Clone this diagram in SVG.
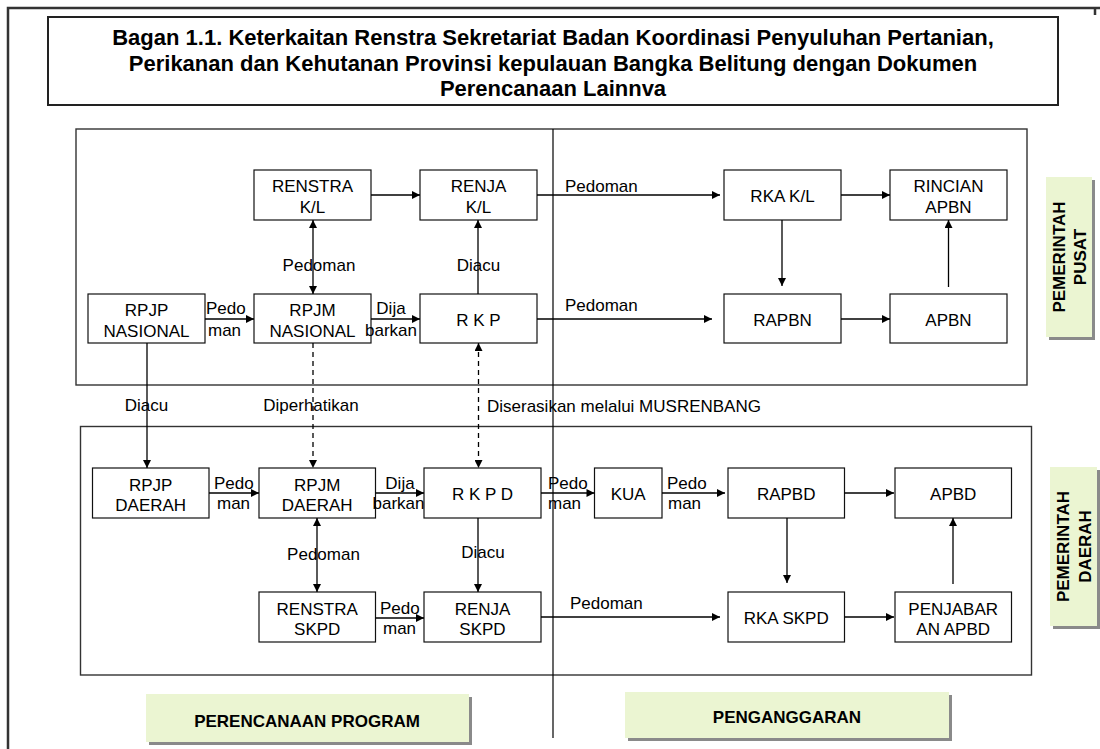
<svg xmlns="http://www.w3.org/2000/svg" width="1100" height="749" viewBox="0 0 1100 749">
<style>
.t{font-family:"Liberation Sans",Arial,sans-serif;font-size:17px;fill:#000}
.tt{font-family:"Liberation Sans",Arial,sans-serif;font-size:22px;font-weight:bold;fill:#000;text-anchor:middle}
.c{text-anchor:middle}
.b{font-weight:bold}
.node rect{fill:#fff;stroke:#111;stroke-width:1.2}
.panel{fill:none;stroke:#333;stroke-width:1.4}
.ln{fill:none;stroke:#000;stroke-width:1.3}
.dash{stroke-dasharray:5,4}
.green{fill:#ebf5d2}
.shadow{fill:#8a8a8a}
</style>
<defs>
<marker id="ah" viewBox="0 0 10 10" refX="10" refY="5" markerWidth="9" markerHeight="8" orient="auto-start-reverse" markerUnits="userSpaceOnUse"><path d="M0,0 L10,5 L0,10 z" fill="#000"/></marker>
</defs>
<rect width="1100" height="749" fill="#fff"/>
<!-- outer frame -->
<path d="M8,749 V8 H1100 M1095,8 V15" fill="none" stroke="#333" stroke-width="2.5"/>
<!-- title -->
<g id="title">
<rect x="48" y="17" width="1010" height="88" fill="#fff" stroke="#222" stroke-width="2"/>
<text class="tt" x="553" y="45">Bagan 1.1. Keterkaitan Renstra Sekretariat Badan Koordinasi Penyuluhan Pertanian,</text>
<text class="tt" x="553" y="71">Perikanan dan Kehutanan Provinsi kepulauan Bangka Belitung dengan Dokumen</text>
<text class="tt" x="553" y="96">Perencanaan Lainnva</text>
</g>
<!-- panels -->
<rect class="panel" x="76" y="129" width="951" height="256"/>
<rect class="panel" x="80.5" y="426.5" width="951" height="248.5"/>
<line x1="553" y1="129" x2="553" y2="738" stroke="#000" stroke-width="1.2"/>

<!-- top nodes -->
<g id="renstra-kl" class="node"><rect x="254" y="170" width="117" height="50"/><text class="t c" x="312.5" y="192">RENSTRA</text><text class="t c" x="312.5" y="213">K/L</text></g>
<g id="renja-kl" class="node"><rect x="420" y="170" width="117" height="50"/><text class="t c" x="478.5" y="192">RENJA</text><text class="t c" x="478.5" y="213">K/L</text></g>
<g id="rka-kl" class="node"><rect x="724" y="170" width="117" height="50"/><text class="t c" x="782.5" y="202">RKA K/L</text></g>
<g id="rincian-apbn" class="node"><rect x="890" y="170" width="117" height="50"/><text class="t c" x="948.5" y="192">RINCIAN</text><text class="t c" x="948.5" y="213">APBN</text></g>
<g id="rpjp-nasional" class="node"><rect x="88" y="294" width="117" height="49"/><text class="t c" x="146.5" y="316">RPJP</text><text class="t c" x="146.5" y="337">NASIONAL</text></g>
<g id="rpjm-nasional" class="node"><rect x="254" y="294" width="117" height="49"/><text class="t c" x="312.5" y="316">RPJM</text><text class="t c" x="312.5" y="337">NASIONAL</text></g>
<g id="rkp" class="node"><rect x="420" y="294" width="117" height="49"/><text class="t c" x="478.5" y="326">R K P</text></g>
<g id="rapbn" class="node"><rect x="724" y="294" width="117" height="49"/><text class="t c" x="782.5" y="326">RAPBN</text></g>
<g id="apbn" class="node"><rect x="890" y="294" width="117" height="49"/><text class="t c" x="948.5" y="326">APBN</text></g>

<!-- bottom nodes -->
<g id="rpjp-daerah" class="node"><rect x="92.5" y="468" width="116.5" height="50"/><text class="t c" x="150.7" y="491">RPJP</text><text class="t c" x="150.7" y="511">DAERAH</text></g>
<g id="rpjm-daerah" class="node"><rect x="259" y="468" width="116.5" height="50"/><text class="t c" x="317.2" y="491">RPJM</text><text class="t c" x="317.2" y="511">DAERAH</text></g>
<g id="rkpd" class="node"><rect x="424" y="468" width="117" height="50"/><text class="t c" x="482.5" y="500">R K P D</text></g>
<g id="kua" class="node"><rect x="594.5" y="468" width="67.5" height="50"/><text class="t c" x="628.2" y="500">KUA</text></g>
<g id="rapbd" class="node"><rect x="728" y="468" width="116.5" height="50"/><text class="t c" x="786.2" y="500">RAPBD</text></g>
<g id="apbd" class="node"><rect x="895" y="468" width="116.5" height="50"/><text class="t c" x="953.2" y="500">APBD</text></g>
<g id="renstra-skpd" class="node"><rect x="259" y="592" width="116.5" height="50"/><text class="t c" x="317.2" y="615">RENSTRA</text><text class="t c" x="317.2" y="635">SKPD</text></g>
<g id="renja-skpd" class="node"><rect x="424" y="592" width="117" height="50"/><text class="t c" x="482.5" y="615">RENJA</text><text class="t c" x="482.5" y="635">SKPD</text></g>
<g id="rka-skpd" class="node"><rect x="728" y="592" width="116.5" height="50"/><text class="t c" x="786.2" y="624">RKA SKPD</text></g>
<g id="penjabaran-apbd" class="node"><rect x="895" y="592" width="116.5" height="50"/><text class="t c" x="953.2" y="615">PENJABAR</text><text class="t c" x="953.2" y="635">AN APBD</text></g>

<!-- connectors -->
<g id="connectors">
<line class="ln" x1="371" y1="195" x2="420" y2="195" marker-end="url(#ah)"/>
<line class="ln" x1="313" y1="220" x2="313" y2="294" marker-start="url(#ah)" marker-end="url(#ah)"/>
<line class="ln" x1="478" y1="294" x2="478" y2="220" marker-end="url(#ah)"/>
<line class="ln" x1="205" y1="319" x2="254" y2="319" marker-end="url(#ah)"/>
<line class="ln" x1="371" y1="319" x2="420" y2="319" marker-end="url(#ah)"/>
<line class="ln" x1="537" y1="195" x2="720" y2="195" marker-end="url(#ah)"/>
<line class="ln" x1="537" y1="319" x2="712" y2="319" marker-end="url(#ah)"/>
<line class="ln" x1="841" y1="195" x2="890" y2="195" marker-end="url(#ah)"/>
<line class="ln" x1="782" y1="220" x2="782" y2="286" marker-end="url(#ah)"/>
<line class="ln" x1="841" y1="319" x2="890" y2="319" marker-end="url(#ah)"/>
<line class="ln" x1="948.5" y1="287" x2="948.5" y2="220" marker-end="url(#ah)"/>
<line class="ln" x1="147" y1="343" x2="147" y2="468" marker-end="url(#ah)"/>
<line class="ln dash" x1="313" y1="343" x2="313" y2="468" marker-end="url(#ah)"/>
<line class="ln dash" x1="478.5" y1="343" x2="478.5" y2="468" marker-start="url(#ah)" marker-end="url(#ah)"/>
<line class="ln" x1="209" y1="493" x2="259" y2="493" marker-end="url(#ah)"/>
<line class="ln" x1="375.5" y1="493" x2="424" y2="493" marker-end="url(#ah)"/>
<line class="ln" x1="317" y1="518" x2="317" y2="592" marker-start="url(#ah)" marker-end="url(#ah)"/>
<line class="ln" x1="478" y1="518" x2="478" y2="592" marker-end="url(#ah)"/>
<line class="ln" x1="375.5" y1="618" x2="424" y2="618" marker-end="url(#ah)"/>
<line class="ln" x1="541" y1="493" x2="594.5" y2="493" marker-end="url(#ah)"/>
<line class="ln" x1="662" y1="493" x2="725" y2="493" marker-end="url(#ah)"/>
<line class="ln" x1="844.5" y1="493" x2="894" y2="493" marker-end="url(#ah)"/>
<line class="ln" x1="787" y1="518" x2="787" y2="583" marker-end="url(#ah)"/>
<line class="ln" x1="953" y1="584" x2="953" y2="518" marker-end="url(#ah)"/>
<line class="ln" x1="541" y1="617" x2="720" y2="617" marker-end="url(#ah)"/>
<line class="ln" x1="844.5" y1="617" x2="894" y2="617" marker-end="url(#ah)"/>
</g>

<!-- connector labels -->
<g id="labels">
<text class="t c" x="319" y="271">Pedoman</text>
<text class="t c" x="478.5" y="271">Diacu</text>
<text class="t" x="206" y="314">Pedo</text>
<text class="t" x="208" y="336">man</text>
<text class="t c" x="391" y="314">Dija</text>
<text class="t c" x="391" y="336">barkan</text>
<text class="t" x="565" y="192">Pedoman</text>
<text class="t" x="565" y="311">Pedoman</text>
<text class="t c" x="146.5" y="411">Diacu</text>
<text class="t c" x="311" y="411">Diperhatikan</text>
<text class="t" x="487" y="412">Diserasikan melalui MUSRENBANG</text>
<text class="t" x="214" y="489">Pedo</text>
<text class="t" x="217" y="509">man</text>
<text class="t c" x="400" y="489">Dija</text>
<text class="t c" x="398.5" y="509">barkan</text>
<text class="t c" x="323.5" y="560">Pedoman</text>
<text class="t c" x="483" y="558">Diacu</text>
<text class="t" x="380" y="614">Pedo</text>
<text class="t" x="383" y="634">man</text>
<text class="t" x="548" y="489">Pedo</text>
<text class="t" x="548" y="509">man</text>
<text class="t" x="667" y="489">Pedo</text>
<text class="t" x="668" y="509">man</text>
<text class="t" x="570" y="609">Pedoman</text>
</g>

<!-- side and bottom labels -->
<g id="label-pusat">
<rect class="shadow" x="1049" y="180" width="46" height="160"/>
<rect class="green" x="1046" y="177" width="46" height="160"/>
<text class="t b c" transform="translate(1065,257) rotate(-90)">PEMERINTAH</text>
<text class="t b c" transform="translate(1086,257) rotate(-90)">PUSAT</text>
</g>
<g id="label-daerah">
<rect class="shadow" x="1053" y="470" width="47" height="159"/>
<rect class="green" x="1050" y="467" width="47" height="159"/>
<text class="t b c" transform="translate(1069,546.5) rotate(-90)">PEMERINTAH</text>
<text class="t b c" transform="translate(1091,546.5) rotate(-90)">DAERAH</text>
</g>
<g id="label-perencanaan">
<rect class="shadow" x="149" y="697" width="323" height="48"/>
<rect class="green" x="146" y="694" width="323" height="48"/>
<text class="t b c" x="307" y="727">PERENCANAAN PROGRAM</text>
</g>
<g id="label-penganggaran">
<rect class="shadow" x="628" y="695" width="324" height="46"/>
<rect class="green" x="625" y="692" width="324" height="46"/>
<text class="t b c" x="787" y="723">PENGANGGARAN</text>
</g>
</svg>
